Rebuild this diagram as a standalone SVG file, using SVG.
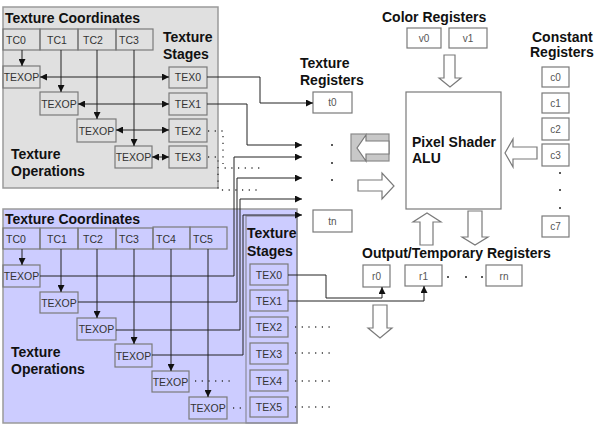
<svg xmlns="http://www.w3.org/2000/svg" width="599" height="428" viewBox="0 0 599 428">
<defs>
<style>
.pa{fill:#e0e0e0;stroke:#9a9a9a;stroke-width:1.5}
.pb{fill:#ccccff;stroke:#9a9a9a;stroke-width:1.5}
.cell{fill:none;stroke:#7a7a7a;stroke-width:1.2}
.reg{fill:#fff;stroke:#7a7a7a;stroke-width:1.2}
.lbl{font-family:"Liberation Sans",Arial,sans-serif;font-size:10.5px;fill:#333}
.rl{font-family:"Liberation Sans",Arial,sans-serif;font-size:10px;fill:#555;text-anchor:middle}
.ttl{font-family:"Liberation Sans",Arial,sans-serif;font-size:14px;font-weight:bold;fill:#111}
.cn{fill:none;stroke:#222;stroke-width:1}
.dt{fill:none;stroke:#333;stroke-width:1.3;stroke-dasharray:1.2 5.5}
.hol{fill:#fff;stroke:#7a7a7a;stroke-width:1.2}
.mid{text-anchor:middle}
</style>
<marker id="ah" viewBox="0 0 8 8" refX="8" refY="4" markerWidth="7" markerHeight="7" orient="auto-start-reverse" markerUnits="userSpaceOnUse"><path d="M0,0 L8,4 L0,8 z" fill="#111"/></marker>
</defs>
<rect width="599" height="428" fill="#fff"/>

<!-- top panel -->
<g id="panel-top">
<rect class="pa" x="3" y="7" width="215" height="181"/>
<text class="ttl" x="5" y="23">Texture Coordinates</text>
<text class="ttl" x="163" y="42">Texture</text>
<text class="ttl" x="163" y="59">Stages</text>
<text class="ttl" x="11" y="159">Texture</text>
<text class="ttl" x="11" y="176">Operations</text>
</g>
<g id="top-tc">
<rect class="cell" x="3" y="29" width="37" height="21"/>
<rect class="cell" x="40" y="29" width="38" height="21"/>
<rect class="cell" x="78" y="29" width="38" height="21"/>
<rect class="cell" x="116" y="29" width="37" height="21"/>
<text class="lbl" x="6" y="44">TC0</text>
<text class="lbl" x="47" y="44">TC1</text>
<text class="lbl" x="83" y="44">TC2</text>
<text class="lbl" x="119" y="44">TC3</text>
</g>
<g id="top-texop">
<rect class="cell" x="3" y="66" width="37" height="22"/>
<rect class="cell" x="40" y="92" width="38" height="23"/>
<rect class="cell" x="77" y="119" width="39" height="23"/>
<rect class="cell" x="115" y="146" width="37" height="22"/>
<text class="lbl mid" x="21.5" y="81">TEXOP</text>
<text class="lbl mid" x="59" y="107.5">TEXOP</text>
<text class="lbl mid" x="96.5" y="134.5">TEXOP</text>
<text class="lbl mid" x="133.5" y="161">TEXOP</text>
</g>
<g id="top-tex">
<rect class="cell" x="169" y="67" width="38" height="21"/>
<rect class="cell" x="169" y="93" width="38" height="22"/>
<rect class="cell" x="169" y="119" width="38" height="23"/>
<rect class="cell" x="169" y="146" width="38" height="22"/>
<text class="lbl mid" x="188" y="81">TEX0</text>
<text class="lbl mid" x="188" y="108">TEX1</text>
<text class="lbl mid" x="188" y="134.5">TEX2</text>
<text class="lbl mid" x="188" y="161">TEX3</text>
</g>

<!-- bottom panel -->
<g id="panel-bottom">
<rect class="pb" x="3" y="209" width="294" height="214"/>
<rect x="246" y="216" width="51" height="207" fill="none" stroke="#8a8a9a" stroke-width="1.2"/>
<text class="ttl" x="5" y="224">Texture Coordinates</text>
<text class="ttl" x="247" y="238">Texture</text>
<text class="ttl" x="247" y="256">Stages</text>
<text class="ttl" x="11" y="357">Texture</text>
<text class="ttl" x="11" y="374">Operations</text>
</g>
<g id="bottom-tc">
<rect class="cell" x="3" y="228" width="37" height="21"/>
<rect class="cell" x="40" y="228" width="38" height="21"/>
<rect class="cell" x="78" y="228" width="38" height="21"/>
<rect class="cell" x="116" y="228" width="37" height="21"/>
<rect class="cell" x="153" y="227" width="37" height="22"/>
<rect class="cell" x="190" y="227" width="37" height="22"/>
<text class="lbl" x="6" y="243">TC0</text>
<text class="lbl" x="47" y="243">TC1</text>
<text class="lbl" x="83" y="243">TC2</text>
<text class="lbl" x="119" y="243">TC3</text>
<text class="lbl" x="156" y="243">TC4</text>
<text class="lbl" x="193" y="243">TC5</text>
</g>
<g id="bottom-texop">
<rect class="cell" x="3" y="265" width="37" height="22"/>
<rect class="cell" x="40" y="292" width="38" height="21"/>
<rect class="cell" x="77" y="318" width="39" height="22"/>
<rect class="cell" x="115" y="344" width="37" height="23"/>
<rect class="cell" x="152" y="371" width="37" height="21"/>
<rect class="cell" x="189" y="397" width="38" height="22"/>
<text class="lbl mid" x="21.5" y="280">TEXOP</text>
<text class="lbl mid" x="59" y="306.5">TEXOP</text>
<text class="lbl mid" x="96.5" y="333">TEXOP</text>
<text class="lbl mid" x="133.5" y="359.5">TEXOP</text>
<text class="lbl mid" x="170.5" y="385.5">TEXOP</text>
<text class="lbl mid" x="208" y="412">TEXOP</text>
</g>
<g id="bottom-tex">
<rect class="cell" x="250" y="264" width="38" height="21"/>
<rect class="cell" x="250" y="290" width="38" height="21"/>
<rect class="cell" x="250" y="317" width="38" height="20"/>
<rect class="cell" x="250" y="343" width="38" height="21"/>
<rect class="cell" x="250" y="370" width="38" height="21"/>
<rect class="cell" x="250" y="397" width="38" height="20"/>
<text class="lbl mid" x="269" y="278.5">TEX0</text>
<text class="lbl mid" x="269" y="304.5">TEX1</text>
<text class="lbl mid" x="269" y="330.5">TEX2</text>
<text class="lbl mid" x="269" y="357.5">TEX3</text>
<text class="lbl mid" x="269" y="384.5">TEX4</text>
<text class="lbl mid" x="269" y="410.5">TEX5</text>
</g>

<!-- registers / ALU -->
<g id="tex-registers">
<text class="ttl" x="300" y="68">Texture</text>
<text class="ttl" x="300" y="85">Registers</text>
<rect class="reg" x="313" y="92" width="39" height="21"/>
<text class="rl" x="332.5" y="106">t0</text>
<circle cx="332" cy="145" r="1" fill="#222"/>
<circle cx="332" cy="163" r="1" fill="#222"/>
<circle cx="332" cy="180" r="1" fill="#222"/>
<rect class="reg" x="313" y="210" width="39" height="22"/>
<text class="rl" x="332.5" y="224.5">tn</text>
</g>
<g id="color-registers">
<text class="ttl" x="382" y="22">Color Registers</text>
<rect class="reg" x="407" y="28" width="34" height="20"/>
<rect class="reg" x="449" y="28" width="38" height="20"/>
<text class="rl" x="424" y="42">v0</text>
<text class="rl" x="468" y="42">v1</text>
</g>
<g id="constant-registers">
<text class="ttl" x="532" y="42">Constant</text>
<text class="ttl" x="530" y="57">Registers</text>
<rect class="reg" x="542" y="67" width="27" height="20"/>
<rect class="reg" x="542" y="93" width="27" height="20"/>
<rect class="reg" x="542" y="118" width="27" height="22"/>
<rect class="reg" x="542" y="144" width="27" height="22"/>
<rect class="reg" x="542" y="216" width="27" height="21"/>
<text class="rl" x="555.5" y="81">c0</text>
<text class="rl" x="555.5" y="107">c1</text>
<text class="rl" x="555.5" y="133">c2</text>
<text class="rl" x="555.5" y="159">c3</text>
<text class="rl" x="555.5" y="230">c7</text>
<circle cx="560" cy="173" r="1" fill="#222"/>
<circle cx="560" cy="190" r="1" fill="#222"/>
<circle cx="560" cy="208" r="1" fill="#222"/>
</g>
<g id="alu">
<rect class="reg" x="406" y="92" width="95" height="117"/>
<text class="ttl" x="412" y="147">Pixel Shader</text>
<text class="ttl" x="412" y="163">ALU</text>
</g>
<g id="output-registers">
<text class="ttl" x="362" y="258">Output/Temporary Registers</text>
<rect class="reg" x="363" y="265" width="27" height="22"/>
<rect class="reg" x="405" y="265" width="37" height="21"/>
<rect class="reg" x="486" y="265" width="36" height="21"/>
<text class="rl" x="376.5" y="280">r0</text>
<text class="rl" x="423.5" y="280">r1</text>
<text class="rl" x="504" y="280">rn</text>
<circle cx="448" cy="277" r="1" fill="#222"/>
<circle cx="466" cy="277" r="1" fill="#222"/>
<circle cx="482" cy="277" r="1" fill="#222"/>
</g>
<g id="hollow-arrows">
<polygon class="hol" points="444,55 455,55 455,78 461,78 450,87 439,78 444,78"/>
<polygon class="hol" points="537,147 513,147 513,139 505,153 513,167 513,159 537,159"/>
<rect x="351" y="134" width="38" height="27" fill="#c8c8c8" stroke="#8a8a8a" stroke-width="1.2"/>
<polygon class="hol" points="389,141 366,141 366,135 357,148 366,161 366,154 389,154"/>
<polygon class="hol" points="358,180 382,180 382,173 394,186 382,199 382,191 358,191"/>
<polygon class="hol" points="420,245 420,222 413,222 427,213 441,222 433,222 433,245"/>
<polygon class="hol" points="468,211 482,211 482,237 488,237 475,245 462,237 468,237"/>
<polygon class="hol" points="373,305 387,305 387,328 392,328 380,338 368,328 373,328"/>
</g>

<!-- connectors -->
<g id="connectors">
<!-- top panel -->
<path class="cn" d="M22,50 V66" marker-end="url(#ah)"/>
<path class="cn" d="M61,50 V92" marker-end="url(#ah)"/>
<path class="cn" d="M97,50 V119" marker-end="url(#ah)"/>
<path class="cn" d="M134,50 V146" marker-end="url(#ah)"/>
<path class="cn" d="M40,77 H169" marker-start="url(#ah)" marker-end="url(#ah)"/>
<path class="cn" d="M78,104 H169" marker-start="url(#ah)" marker-end="url(#ah)"/>
<path class="cn" d="M116,130 H169" marker-start="url(#ah)" marker-end="url(#ah)"/>
<path class="cn" d="M152,157 H169" marker-start="url(#ah)" marker-end="url(#ah)"/>
<path class="cn" d="M207,77 H260 V103 H313" marker-end="url(#ah)"/>
<path class="cn" d="M207,104 H247 V145 H302" marker-end="url(#ah)"/>
<path class="dt" d="M208,131 H223 V168 H262"/>
<path class="dt" d="M208,157 H218 V190 H257"/>
<!-- bottom panel -->
<path class="cn" d="M22,249 V265" marker-end="url(#ah)"/>
<path class="cn" d="M61,249 V292" marker-end="url(#ah)"/>
<path class="cn" d="M97,249 V318" marker-end="url(#ah)"/>
<path class="cn" d="M134,249 V344" marker-end="url(#ah)"/>
<path class="cn" d="M171,249 V371" marker-end="url(#ah)"/>
<path class="cn" d="M208,249 V397" marker-end="url(#ah)"/>
<path class="cn" d="M40,276 H234 V157 H302" marker-end="url(#ah)"/>
<path class="cn" d="M78,302 H237 V178 H302" marker-end="url(#ah)"/>
<path class="cn" d="M116,330 H240 V199 H302" marker-end="url(#ah)"/>
<path class="cn" d="M152,355 H243 V215 H302" marker-end="url(#ah)"/>
<path class="dt" d="M195,381 H233"/>
<path class="dt" d="M233,408 H244"/>
<path class="cn" d="M288,275 H326 V298 H382 V287" marker-end="url(#ah)"/>
<path class="cn" d="M288,301 H424 V286" marker-end="url(#ah)"/>
<path class="dt" d="M295,327 H332"/>
<path class="dt" d="M295,353 H332"/>
<path class="dt" d="M295,381 H332"/>
<path class="dt" d="M295,407 H332"/>
</g>
</svg>
